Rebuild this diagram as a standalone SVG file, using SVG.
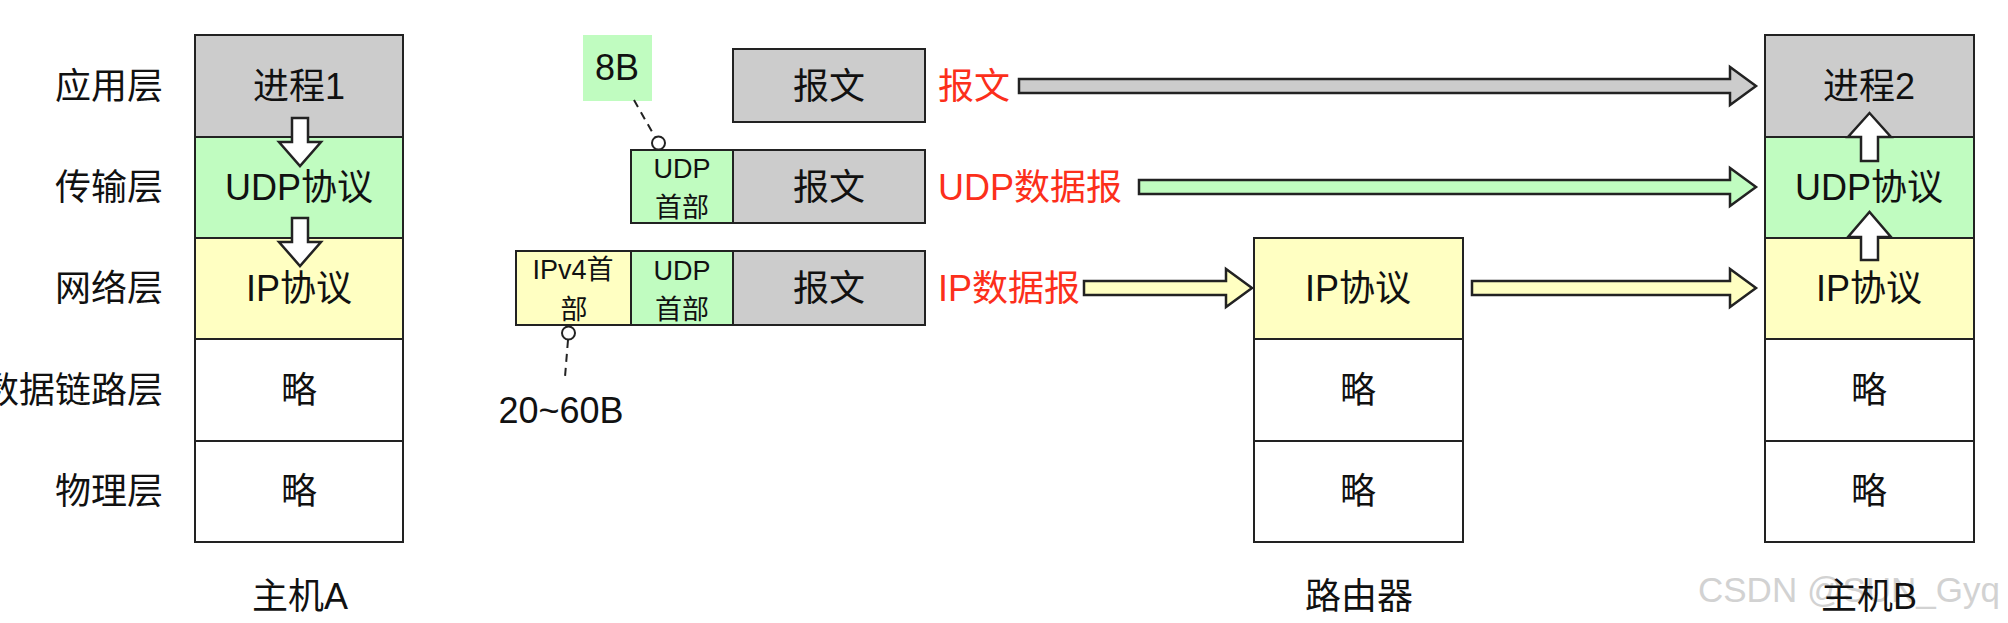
<svg xmlns="http://www.w3.org/2000/svg" width="2008" height="623" viewBox="0 0 2008 623">
  <style>
    .box { stroke: #222; stroke-width: 2; }
    .gray { fill: #cccccc; }
    .green { fill: #c0fcc0; }
    .yellow { fill: #ffffc2; }
    .white { fill: #ffffff; }
    text { font-family: "Liberation Sans", "Noto Sans CJK SC", sans-serif; fill: #111; }
    .t36 { font-size: 36px; }
    .t27 { font-size: 27px; }
    .mid { text-anchor: middle; }
    .end { text-anchor: end; }
    .red { fill: #fc2f1b; }
    .arrow { stroke: #222; stroke-width: 2.5; stroke-linejoin: miter; }
    .dash { stroke: #222; stroke-width: 2; stroke-dasharray: 8 6; fill: none; }
    .pin { fill: #fff; stroke: #222; stroke-width: 2; }
    .mark { fill: #d2d2d2; font-size: 35px; }
  </style>

  <!-- layer names -->
  <g id="layer-labels">
    <text class="t36 end" x="163" y="99">应用层</text>
    <text class="t36 end" x="163" y="200">传输层</text>
    <text class="t36 end" x="163" y="301">网络层</text>
    <text class="t36 end" x="163" y="403">数据链路层</text>
    <text class="t36 end" x="163" y="504">物理层</text>
  </g>

  <!-- host A stack -->
  <g id="hostA">
    <rect class="box gray" x="195" y="35" width="208" height="102"/>
    <rect class="box green" x="195" y="137" width="208" height="101"/>
    <rect class="box yellow" x="195" y="238" width="208" height="101"/>
    <rect class="box white" x="195" y="339" width="208" height="102"/>
    <rect class="box white" x="195" y="441" width="208" height="101"/>
    <text class="t36 mid" x="299" y="99">进程1</text>
    <text class="t36 mid" x="299" y="200">UDP协议</text>
    <text class="t36 mid" x="299" y="301">IP协议</text>
    <text class="t36 mid" x="299" y="403">略</text>
    <text class="t36 mid" x="299" y="504">略</text>
    <text class="t36 mid" x="300" y="609">主机A</text>
  </g>

  <!-- size callouts -->
  <g id="callout-8B">
    <rect class="green" x="583" y="35" width="69" height="66"/>
    <text class="t36 mid" x="617" y="80">8B</text>
  </g>
  <g id="callout-20-60B">
    <text class="t36 mid" x="561" y="423">20~60B</text>
  </g>

  <!-- application message -->
  <g id="msg-app">
    <rect class="box gray" x="733" y="49" width="192" height="73"/>
    <text class="t36 mid" x="829" y="99">报文</text>
    <text class="t36 red" x="938" y="99">报文</text>
  </g>

  <!-- UDP datagram -->
  <g id="msg-udp">
    <rect class="box green" x="631" y="150" width="102" height="73"/>
    <rect class="box gray" x="733" y="150" width="192" height="73"/>
    <text class="t27 mid" x="682" y="178">UDP</text>
    <text class="t27 mid" x="682" y="217">首部</text>
    <text class="t36 mid" x="829" y="200">报文</text>
    <text class="t36 red" x="938" y="200">UDP数据报</text>
  </g>

  <!-- IP datagram -->
  <g id="msg-ip">
    <rect class="box yellow" x="516" y="251" width="115" height="74"/>
    <rect class="box green" x="631" y="251" width="102" height="74"/>
    <rect class="box gray" x="733" y="251" width="192" height="74"/>
    <text class="t27 mid" x="573" y="279">IPv4首</text>
    <text class="t27 mid" x="574" y="319">部</text>
    <text class="t27 mid" x="682" y="280">UDP</text>
    <text class="t27 mid" x="682" y="319">首部</text>
    <text class="t36 mid" x="829" y="301">报文</text>
    <text class="t36 red" x="938" y="301">IP数据报</text>
  </g>

  <!-- router stack -->
  <g id="router">
    <rect class="box yellow" x="1254" y="238" width="209" height="101"/>
    <rect class="box white" x="1254" y="339" width="209" height="102"/>
    <rect class="box white" x="1254" y="441" width="209" height="101"/>
    <text class="t36 mid" x="1358" y="301">IP协议</text>
    <text class="t36 mid" x="1358" y="403">略</text>
    <text class="t36 mid" x="1358" y="504">略</text>
    <text class="t36 mid" x="1359" y="609">路由器</text>
  </g>

  <!-- host B stack -->
  <g id="hostB">
    <rect class="box gray" x="1765" y="35" width="209" height="102"/>
    <rect class="box green" x="1765" y="137" width="209" height="101"/>
    <rect class="box yellow" x="1765" y="238" width="209" height="101"/>
    <rect class="box white" x="1765" y="339" width="209" height="102"/>
    <rect class="box white" x="1765" y="441" width="209" height="101"/>
    <text class="t36 mid" x="1869" y="99">进程2</text>
    <text class="t36 mid" x="1869" y="200">UDP协议</text>
    <text class="t36 mid" x="1869" y="301">IP协议</text>
    <text class="t36 mid" x="1869" y="403">略</text>
    <text class="t36 mid" x="1869" y="504">略</text>
    <text class="mark" x="1698" y="602">CSDN @SUN_Gyq</text>
    <text class="t36 mid" x="1869" y="609">主机B</text>
  </g>

  <!-- connectors -->
  <g id="connectors">
    <!-- down the stack in host A -->
    <polygon class="arrow white" points="292,118 308,118 308,142 321,142 300,166 279,142 292,142"/>
    <polygon class="arrow white" points="292,218 308,218 308,242 321,242 300,266 279,242 292,242"/>
    <!-- up the stack in host B -->
    <polygon class="arrow white" points="1861,161 1878,161 1878,137 1891,137 1869.5,113 1848,137 1861,137"/>
    <polygon class="arrow white" points="1861,260 1878,260 1878,237 1891,237 1869.5,212 1848,237 1861,237"/>
    <!-- peer arrows -->
    <polygon class="arrow gray" points="1019,79 1730,79 1730,67 1756,86 1730,105 1730,93 1019,93"/>
    <polygon class="arrow green" points="1139,180 1730,180 1730,168 1756,187 1730,206 1730,194 1139,194"/>
    <polygon class="arrow yellow" points="1084,281 1226,281 1226,269 1252,288 1226,307 1226,295 1084,295"/>
    <polygon class="arrow yellow" points="1472,281 1730,281 1730,269 1756,288 1730,307 1730,295 1472,295"/>
    <!-- header size pointers -->
    <line class="dash" x1="634" y1="100" x2="655" y2="137"/>
    <circle class="pin" cx="658.5" cy="143" r="6.5"/>
    <line class="dash" x1="568" y1="340" x2="565" y2="377"/>
    <circle class="pin" cx="568.5" cy="333" r="6.5"/>
  </g>
</svg>
